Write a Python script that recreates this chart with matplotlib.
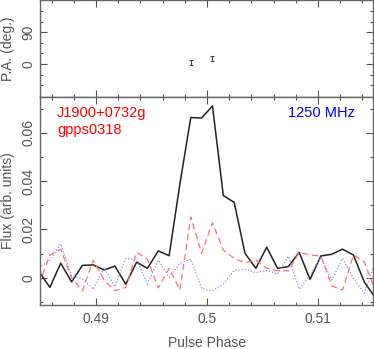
import numpy as np
import matplotlib
matplotlib.use('Agg')
import matplotlib.pyplot as plt
from matplotlib.ticker import MultipleLocator, FixedLocator

# pulse phase bins (1024 bins per turn), shown around the peak
bins = np.arange(496, 528)
phase = (bins + 0.5) / 1024.0

# total intensity
flux_i = [0.0025, -0.0040, 0.0060, -0.0017, 0.0051, 0.0053, 0.0032, 0.0048,
          -0.0027, 0.0064, 0.0039, 0.0111, 0.0091, 0.0390, 0.0663, 0.0661,
          0.0711, 0.0340, 0.0312, 0.0101, 0.0039, 0.0126, 0.0039, 0.0046,
          0.0105, -0.0007, 0.0090, 0.0097, 0.0118, 0.0094, -0.0017, -0.0082]
# linear polarisation
flux_l = [-0.0027, 0.0094, 0.0118, -0.0001, -0.0054, 0.0073, -0.0010, -0.0054,
          -0.0040, 0.0105, 0.0077, -0.0042, 0.0039, -0.0051, 0.0251, 0.0101,
          0.0228, 0.0115, 0.0080, 0.0062, 0.0073, 0.0039, 0.0029, 0.0028,
          0.0105, 0.0094, 0.0090, -0.0034, -0.0051, 0.0094, 0.0066, -0.0051]
# circular polarisation
flux_v = [0.0040, 0.0073, 0.0140, 0.0007, -0.0005, -0.0048, 0.0042, -0.0037,
          0.0080, 0.0073, -0.0026, 0.0073, 0.0002, 0.0060, 0.0077, -0.0044,
          -0.0054, -0.0026, 0.0030, 0.0034, 0.0021, 0.0030, 0.0015, 0.0089,
          -0.0048, 0.0011, 0.0084, -0.0010, 0.0080, -0.0002, -0.0065, 0.0065]

# position angle points
pa_phase = [510.5 / 1024.0, 512.5 / 1024.0]
pa_deg = [5.0, 16.0]
pa_err = [7.0, 7.0]

psr_name = 'J1900+0732g'
gpps_id = 'gpps0318'
freq_label = '1250 MHz'

grey = '#555555'
plt.rcParams['font.family'] = ['Liberation Sans', 'DejaVu Sans']
plt.rcParams['font.size'] = 10

W, H = 374, 349
fig = plt.figure(figsize=(W / 100, H / 100), dpi=100)
left = 40 / W
width = 333 / W
ax_pa = fig.add_axes([left, 1 - 97 / H, width, 97 / H])
ax = fig.add_axes([left, 1 - 305 / H, width, 208 / H])

xlim = (0.48495, 0.51495)

# --- PA panel
ax_pa.errorbar(pa_phase, pa_deg, yerr=pa_err, fmt='none', ecolor='#444444',
               elinewidth=0.8, capsize=1.5, capthick=0.8)
ax_pa.set_xlim(*xlim)
ax_pa.set_ylim(-94, 182)
ax_pa.yaxis.set_major_locator(FixedLocator([0, 90]))
ax_pa.yaxis.set_minor_locator(FixedLocator([-60, -30, 30, 60, 120, 150]))
ax_pa.set_ylabel('P.A. (deg.)', color=grey)
ax_pa.tick_params(labelbottom=False)

# --- profile panel
ax.plot(phase, flux_i, color='#222222', lw=1.1)
ax.plot(phase, flux_l, color='#ff7070', lw=0.9, ls=(0, (5, 3)))
ax.plot(phase, flux_v, color='#8c8cff', lw=0.9, ls=(0, (1, 1.5)))
ax.set_xlim(*xlim)
ax.set_ylim(-0.0113, 0.0748)
ax.yaxis.set_major_locator(MultipleLocator(0.02))
ax.yaxis.set_minor_locator(MultipleLocator(0.01))
ax.yaxis.set_major_formatter(plt.FuncFormatter(lambda v, p: '0' if abs(v) < 1e-9 else '%g' % v))
ax.set_ylabel('Flux (arb. units)', color=grey)
ax.set_xlabel('Pulse Phase', color=grey, labelpad=7)

ax.text(0.051, 0.923, psr_name, color='red', transform=ax.transAxes,
        va='center', ha='left', fontsize=10.5)
ax.text(0.051, 0.841, gpps_id, color='red', transform=ax.transAxes,
        va='center', ha='left', fontsize=10.5)
ax.text(0.946, 0.923, freq_label, color='blue', transform=ax.transAxes,
        va='center', ha='right', fontsize=10.5)

for a in (ax_pa, ax):
    a.xaxis.set_major_locator(MultipleLocator(0.01))
    a.xaxis.set_minor_locator(MultipleLocator(0.002))
    a.xaxis.set_major_formatter(plt.FuncFormatter(lambda v, p: '%g' % round(v, 4)))
    a.tick_params(which='both', direction='in', top=True, right=True,
                  colors=grey, width=0.8)
    a.tick_params(which='major', length=5)
    a.tick_params(which='minor', length=2.5)
    a.tick_params(axis='x', pad=5)
    a.tick_params(axis='y', pad=3)
    for lbl in a.get_yticklabels():
        lbl.set_rotation(90)
        lbl.set_va('center')
    for s in a.spines.values():
        s.set_color('#666666')
        s.set_linewidth(1.0)
    a.yaxis.set_label_coords(-0.074, 0.5)

fig.savefig('out.png', dpi=100)
